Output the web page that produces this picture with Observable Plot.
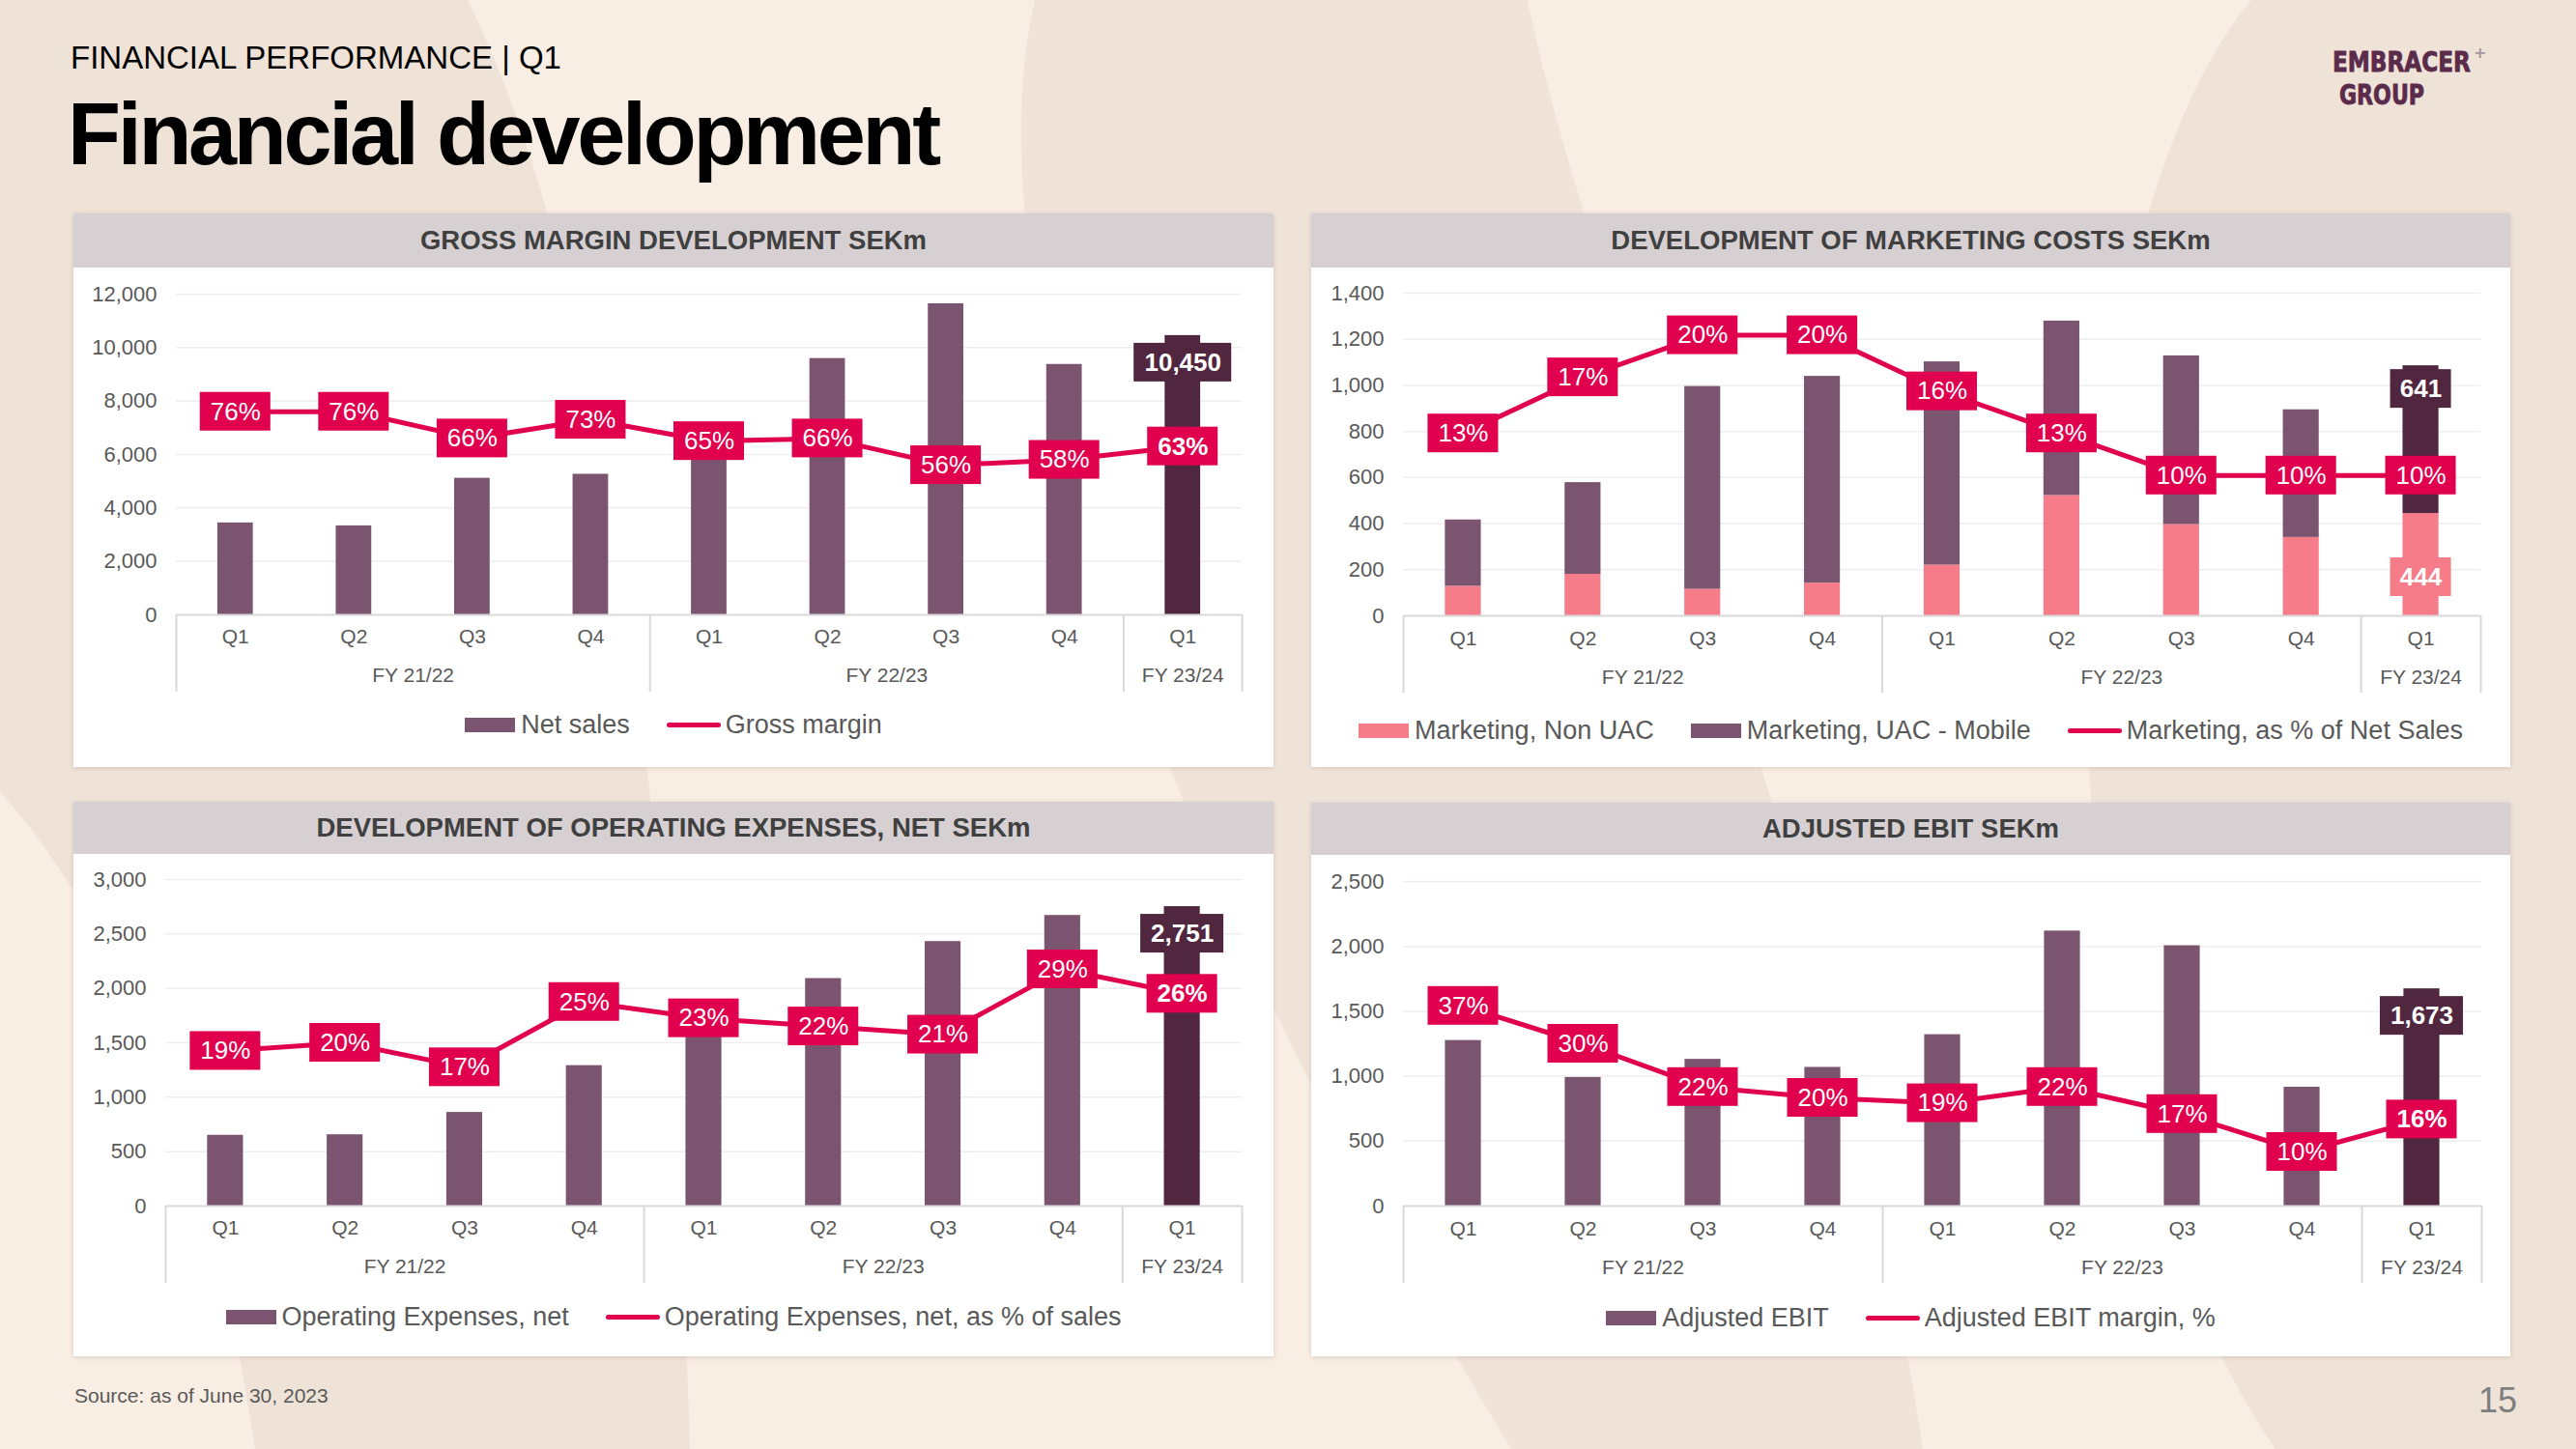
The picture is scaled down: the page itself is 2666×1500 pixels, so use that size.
<!DOCTYPE html>
<html>
<head>
<meta charset="utf-8">
<script src="https://cdn.jsdelivr.net/npm/d3@7"></script>
<script src="https://cdn.jsdelivr.net/npm/@observablehq/plot@0.6"></script>
<style>
  html, body { margin: 0; padding: 0; }
  body { width: 2666px; height: 1500px; overflow: hidden; position: relative; background: #F9EEE4; font-family: "Liberation Sans", Arial, sans-serif; }
  #deco { position: absolute; left: 0; top: 0; }
  .panel { position: absolute; background: #FFFFFF; box-shadow: 0 1px 5px rgba(110, 90, 80, 0.22); }
  .head { background: #D7D0D3; color: #404040; font-weight: bold; font-size: 27.5px; display: flex; align-items: center; justify-content: center; }
  .plot svg { display: block; }
  .legend { position: absolute; left: 0; width: 100%; display: flex; justify-content: center; align-items: center; font-size: 27px; color: #595959; height: 34px; }
  .item { display: flex; align-items: center; margin: 0 19px; }
  .sw-bar { width: 52px; height: 15px; margin-right: 6px; }
  .sw-line { width: 56px; height: 5px; border-radius: 3px; margin-right: 5px; }
</style>
</head>
<body>
<svg id="deco" width="2666" height="1500" xmlns="http://www.w3.org/2000/svg">
  <path d="M0,0 L484,0 C610,260 690,700 714,1500 L264,1500 C220,1200 120,950 0,820 Z" fill="#EFE3D8"/>
  <path d="M1071,0 C1000,300 1200,900 1564,1500 L1990,1500 C1900,900 1640,300 1581,0 Z" fill="#F0E4D9"/>
  <path d="M2330,0 C2120,250 2080,1100 2355,1500 L2666,1500 L2666,0 Z" fill="#EFE3D8"/>
  <text x="73" y="71" font-size="33" fill="#000000" font-family="Liberation Sans, Arial, sans-serif">FINANCIAL PERFORMANCE | Q1</text>
  <text x="70" y="170" font-size="90" font-weight="bold" letter-spacing="-3.3" fill="#000000" font-family="Liberation Sans, Arial, sans-serif">Financial development</text>
  <text id="logoTop" x="0" y="0" font-size="29" font-weight="bold" fill="#5B2B4B" stroke="#5B2B4B" stroke-width="0.8" font-family="DejaVu Sans Condensed, DejaVu Sans, sans-serif">EMBRACER</text>
  <text id="logoPlus" x="2560" y="60" font-size="16" font-weight="bold" fill="#A893A5" font-family="DejaVu Sans, sans-serif">+</text>
  <text id="logoBottom" x="0" y="0" font-size="29" font-weight="bold" fill="#5B2B4B" stroke="#5B2B4B" stroke-width="0.8" font-family="DejaVu Sans Condensed, DejaVu Sans, sans-serif">GROUP</text>
  <text x="77" y="1452" font-size="21" fill="#595959" font-family="Liberation Sans, Arial, sans-serif">Source: as of June 30, 2023</text>
  <text x="2605" y="1462" font-size="36" fill="#7F7F7F" text-anchor="end" font-family="Liberation Sans, Arial, sans-serif">15</text>
</svg>
<div id="root"></div>
<script>
// ---------- data ----------
const quarterLabels = ["Q1", "Q2", "Q3", "Q4", "Q1", "Q2", "Q3", "Q4", "Q1"];
const fyLabels = ["FY 21/22", "FY 22/23", "FY 23/24"];
const fyQuarterCounts = [4, 4, 1];

const netSales = [3440, 3330, 5110, 5260, 6950, 9590, 11640, 9370, 10450];
const grossMarginPct = [76, 76, 66, 73, 65, 66, 56, 58, 63];

const marketingNonUAC = [128, 180, 115, 142, 220, 522, 396, 340, 444];
const marketingUACMobile = [288, 398, 880, 897, 882, 757, 732, 554, 641];
const marketingPct = [13, 17, 20, 20, 16, 13, 10, 10, 10];

const opexNet = [650, 655, 860, 1290, 1600, 2090, 2430, 2670, 2751];
const opexPct = [19, 20, 17, 25, 23, 22, 21, 29, 26];

const adjEbit = [1275, 990, 1130, 1068, 1320, 2118, 2005, 915, 1673];
const adjEbitPct = [37, 30, 22, 20, 19, 22, 17, 10, 16];

const ticksGross = [0, 2000, 4000, 6000, 8000, 10000, 12000];
const ticksMarketing = [0, 200, 400, 600, 800, 1000, 1200, 1400];
const ticksOpex = [0, 500, 1000, 1500, 2000, 2500, 3000];
const ticksEbit = [0, 500, 1000, 1500, 2000, 2500];

// ---------- logo fitting: condense the two words horizontally to their widths ----------
(function fitLogo() {
  const top = document.getElementById("logoTop");
  const bottom = document.getElementById("logoBottom");
  const wt = top.getComputedTextLength() || 143;
  top.setAttribute("transform", `translate(2414,74) scale(${(143 / wt).toFixed(4)},1)`);
  const wb = bottom.getComputedTextLength() || 88;
  bottom.setAttribute("transform", `translate(2421,108) scale(${(88 / wb).toFixed(4)},1)`);
})();

// ---------- style ----------
const PURPLE = "#7B5570";
const DARK = "#50273F";
const PINK = "#F57C88";
const CRIMSON = "#E0004D";
const GREY_TEXT = "#595959";
const fmt = d3.format(",");

// FY group centres and separators, derived from the quarter counts
const fyRows = [];
const separators = [-0.5];
{
  let start = 0;
  fyLabels.forEach((label, g) => {
    const n = fyQuarterCounts[g];
    fyRows.push({label, center: start + (n - 1) / 2});
    start += n;
    separators.push(start - 0.5);
  });
}

function makeChart(cfg) {
  const {width, height, mt, mb, ml, mr, yMax, yTicks, pctMax, segments, pct, boldLastPct, valueLabels, qDy, fyDy} = cfg;
  const k = yMax / pctMax;
  const plotH = height - mt - mb;
  const yBelow = -yMax * 80 / plotH;
  const n = quarterLabels.length;
  const rows = quarterLabels.map((q, i) => ({i, q, pct: pct[i]}));
  const last = n - 1;

  const marks = [
    Plot.ruleY(yTicks.filter(t => t > 0), {y: d => d, stroke: "#EEEEEE", strokeWidth: 1.5}),
    Plot.text(yTicks, {y: d => d, text: d => fmt(d), frameAnchor: "left", textAnchor: "end", dx: -20, fill: GREY_TEXT, fontSize: 22})
  ];
  // stacked bar segments
  segments.forEach(seg => {
    let base = new Array(n).fill(0);
    if (seg.below) base = seg.below;
    const segRows = quarterLabels.map((q, i) => ({i, y1: base[i], y2: base[i] + seg.values[i]}));
    marks.push(Plot.rect(segRows.filter(d => d.i !== last), {x1: d => d.i - 0.15, x2: d => d.i + 0.15, y1: "y1", y2: "y2", fill: seg.fill}));
    marks.push(Plot.rect(segRows.filter(d => d.i === last), {x1: d => d.i - 0.15, x2: d => d.i + 0.15, y1: "y1", y2: "y2", fill: seg.lastFill}));
  });
  marks.push(
    Plot.ruleY([0], {y: d => d, stroke: "#D9D9D9", strokeWidth: 2}),
    Plot.ruleX(separators, {x: d => d, y1: 0, y2: yBelow, stroke: "#D9D9D9", strokeWidth: 2}),
    Plot.line(rows, {x: "i", y: d => d.pct * k, stroke: CRIMSON, strokeWidth: 5}),
    Plot.rect(rows, {x1: "i", x2: "i", y1: d => d.pct * k, y2: d => d.pct * k, fill: CRIMSON,
      insetLeft: -36.5, insetRight: -36.5, insetTop: -20, insetBottom: -20}),
    Plot.text(rows.filter(d => !(boldLastPct && d.i === last)), {x: "i", y: d => d.pct * k, text: d => d.pct + "%", fill: "white", fontSize: 26}),
    Plot.text(rows.filter(d => boldLastPct && d.i === last), {x: "i", y: d => d.pct * k, text: d => d.pct + "%", fill: "white", fontSize: 26, fontWeight: "bold"})
  );
  // value labels on the latest quarter
  valueLabels.forEach(v => {
    const r = [{i: last, y: v.y, value: v.value}];
    marks.push(
      Plot.rect(r, {x1: "i", x2: "i", y1: "y", y2: "y", fill: v.fill,
        insetLeft: -v.w / 2, insetRight: -v.w / 2, insetTop: v.dy - 20, insetBottom: -(v.dy + 20)}),
      Plot.text(r, {x: "i", y: "y", dy: v.dy, text: d => fmt(d.value), fill: "white", fontSize: 26, fontWeight: "bold"})
    );
  });
  // two-level category axis
  marks.push(
    Plot.text(rows, {x: "i", frameAnchor: "bottom", dy: qDy, text: "q", fill: GREY_TEXT, fontSize: 21}),
    Plot.text(fyRows, {x: "center", frameAnchor: "bottom", dy: fyDy, text: "label", fill: GREY_TEXT, fontSize: 21})
  );

  return Plot.plot({
    width, height,
    marginTop: mt, marginBottom: mb, marginLeft: ml, marginRight: mr,
    x: {type: "linear", domain: [-0.5, n - 0.5], axis: null},
    y: {type: "linear", domain: [0, yMax], axis: null},
    style: {background: "transparent", fontFamily: "Liberation Sans, Arial, sans-serif", overflow: "visible"},
    marks
  });
}

function makePanel(p) {
  const panel = document.createElement("div");
  panel.className = "panel";
  Object.assign(panel.style, {left: p.left + "px", top: p.top + "px", width: p.width + "px", height: p.height + "px"});
  const head = document.createElement("div");
  head.className = "head";
  head.style.height = p.head + "px";
  head.textContent = p.title;
  panel.appendChild(head);
  const plotDiv = document.createElement("div");
  plotDiv.className = "plot";
  plotDiv.appendChild(makeChart(Object.assign({width: p.width}, p.chart)));
  panel.appendChild(plotDiv);
  const legend = document.createElement("div");
  legend.className = "legend";
  legend.style.top = (p.legendY - 17) + "px";
  p.legend.forEach(it => {
    const item = document.createElement("div");
    item.className = "item";
    const sw = document.createElement("div");
    sw.className = it.type === "bar" ? "sw-bar" : "sw-line";
    sw.style.background = it.color;
    const tx = document.createElement("span");
    tx.textContent = it.label;
    item.appendChild(sw);
    item.appendChild(tx);
    legend.appendChild(item);
  });
  panel.appendChild(legend);
  document.getElementById("root").appendChild(panel);
}

makePanel({
  left: 76, top: 221, width: 1242, height: 573, head: 56, legendY: 529,
  title: "GROSS MARGIN DEVELOPMENT SEKm",
  chart: {height: 470, mt: 27, mb: 111, ml: 106, mr: 33, yMax: 12000, yTicks: ticksGross, pctMax: 120, qDy: 29, fyDy: 69,
    segments: [{values: netSales, fill: PURPLE, lastFill: DARK}],
    pct: grossMarginPct, boldLastPct: true,
    valueLabels: [{value: netSales[8], y: netSales[8], w: 101, dy: 28, fill: DARK}]},
  legend: [{type: "bar", color: PURPLE, label: "Net sales"}, {type: "line", color: CRIMSON, label: "Gross margin"}]
});

makePanel({
  left: 1357, top: 221, width: 1241, height: 573, head: 56, legendY: 535,
  title: "DEVELOPMENT OF MARKETING COSTS SEKm",
  chart: {height: 470, mt: 26, mb: 110, ml: 95, mr: 31, yMax: 1400, yTicks: ticksMarketing, pctMax: 23, qDy: 30, fyDy: 70,
    segments: [
      {values: marketingNonUAC, fill: PINK, lastFill: PINK},
      {values: marketingUACMobile, below: marketingNonUAC, fill: PURPLE, lastFill: DARK}
    ],
    pct: marketingPct, boldLastPct: false,
    valueLabels: [
      {value: marketingUACMobile[8], y: marketingNonUAC[8] + marketingUACMobile[8], w: 63, dy: 24, fill: DARK},
      {value: marketingNonUAC[8], y: 0, w: 63, dy: -40, fill: PINK}
    ]},
  legend: [
    {type: "bar", color: PINK, label: "Marketing, Non UAC"},
    {type: "bar", color: PURPLE, label: "Marketing, UAC - Mobile"},
    {type: "line", color: CRIMSON, label: "Marketing, as % of Net Sales"}
  ]
});

makePanel({
  left: 76, top: 830, width: 1242, height: 574, head: 54, legendY: 533,
  title: "DEVELOPMENT OF OPERATING EXPENSES, NET SEKm",
  chart: {height: 470, mt: 26, mb: 106, ml: 95, mr: 33, yMax: 3000, yTicks: ticksOpex, pctMax: 40, qDy: 29, fyDy: 69,
    segments: [{values: opexNet, fill: PURPLE, lastFill: DARK}],
    pct: opexPct, boldLastPct: true,
    valueLabels: [{value: opexNet[8], y: opexNet[8], w: 86, dy: 28, fill: DARK}]},
  legend: [{type: "bar", color: PURPLE, label: "Operating Expenses, net"}, {type: "line", color: CRIMSON, label: "Operating Expenses, net, as % of sales"}]
});

makePanel({
  left: 1357, top: 831, width: 1241, height: 573, head: 54, legendY: 533,
  title: "ADJUSTED EBIT SEKm",
  chart: {height: 470, mt: 27, mb: 107, ml: 95, mr: 30, yMax: 2500, yTicks: ticksEbit, pctMax: 60, qDy: 30, fyDy: 70,
    segments: [{values: adjEbit, fill: PURPLE, lastFill: DARK}],
    pct: adjEbitPct, boldLastPct: true,
    valueLabels: [{value: adjEbit[8], y: adjEbit[8], w: 86, dy: 28, fill: DARK}]},
  legend: [{type: "bar", color: PURPLE, label: "Adjusted EBIT"}, {type: "line", color: CRIMSON, label: "Adjusted EBIT margin, %"}]
});
</script>
</body>
</html>
